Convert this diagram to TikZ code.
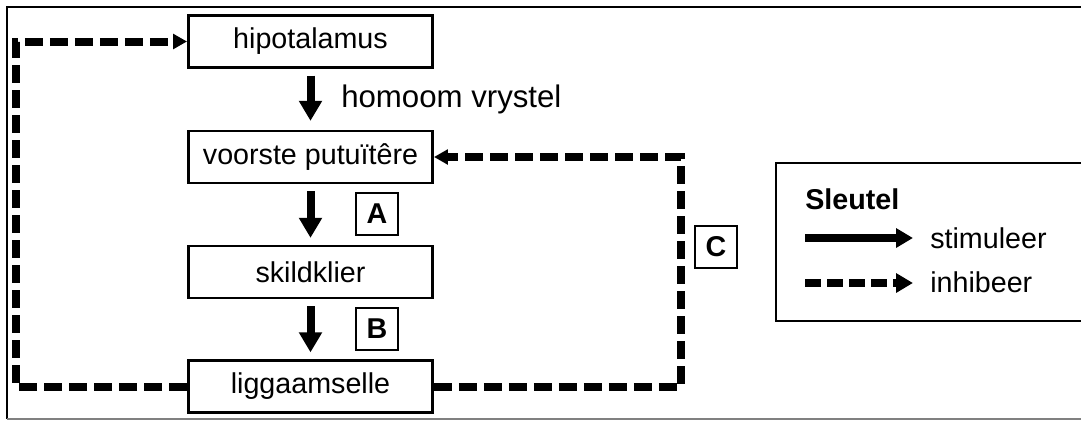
\documentclass[tikz,border=0pt]{standalone}
\usepackage{fontspec}
\setmainfont{Liberation Sans}
\usetikzlibrary{arrows.meta}

\begin{document}
\begin{tikzpicture}[x=0.75pt,y=-0.75pt,
  txt/.style={font=\fontsize{21.5}{24}\selectfont},
  organ/.style={draw,line width=2.2pt,minimum width=183pt,minimum height=39pt,inner sep=0pt,txt},
  tag/.style={draw,line width=1.6pt,minimum width=31.5pt,minimum height=31.5pt,inner sep=0pt,font=\fontsize{21.5}{24}\selectfont\bfseries},
  stim/.style={line width=6pt,-{Triangle[length=15pt,width=16.5pt]}},
  inhib/.style={line width=6pt,dash pattern=on 13.5pt off 5.25pt,line join=miter,-{Triangle[length=10.5pt,width=11pt]}},
  frame/.style={line width=1.6pt}]
  \useasboundingbox (0,0) rectangle (1081,421);

  % outer frame
  \draw[frame] (1081,7) -- (7,7) -- (7,419);
  \draw[frame,gray] (7,419) -- (1081,419);

  % chain of organs
  \node[organ] (hipo)  at (310.5,41.5) {hipotalamus};
  \node[organ] (pit)   at (310.5,157)  {voorste putuïtêre};
  \node[organ] (thy)   at (310.5,272)  {skildklier};
  \node[organ] (cells) at (310.5,386.5){liggaamselle};

  % stimulating steps
  \draw[stim,shorten <=5pt,shorten >=6.5pt] (hipo.south) -- (pit.north);
  \draw[stim,shorten <=5pt,shorten >=5pt] (pit.south) -- (thy.north);
  \draw[stim,shorten <=5pt,shorten >=5pt] (thy.south) -- (cells.north);

  \node[anchor=base west,inner sep=0pt,font=\fontsize{23.4}{26}\selectfont] (hormone) at (341,107) {homoom vrystel};
  \node[tag] (A) at (377,214) {A};
  \node[tag] (B) at (377,329) {B};
  \node[tag] (C) at (716,247) {C};

  % negative feedback loops
  \coordinate (lb) at (16,386.5);
  \coordinate (lt) at (16,41.5);
  \draw[inhib] (cells.west) -- (lb) -- (lt) -- (hipo.west);
  \coordinate (rb) at (681,386.5);
  \coordinate (rt) at (681,157);
  \draw[inhib] (cells.east) -- (rb) -- (rt) -- (pit.east);

  % key
  \draw[line width=2pt] (1081,163) -- (776,163) -- (776,321) -- (1081,321);
  \node[anchor=base west,inner sep=0pt,font=\fontsize{21.5}{24}\selectfont\bfseries] (key) at (805,209) {Sleutel};
  \coordinate (s1) at (805,238);
  \coordinate (s2) at (913,238);
  \coordinate (i1) at (805,283);
  \coordinate (i2) at (913,283);
  \draw[line width=6pt,-{Triangle[length=12.75pt,width=14pt]}] (s1) -- (s2);
  \draw[line width=6pt,dash pattern=on 12pt off 4.5pt,-{Triangle[length=12.75pt,width=14pt]}] (i1) -- (i2);
  \node[txt,anchor=base west,inner sep=0pt] (stimtxt) at (930,248) {stimuleer};
  \node[txt,anchor=base west,inner sep=0pt] (inhtxt) at (930,292) {inhibeer};
\end{tikzpicture}
\end{document}
